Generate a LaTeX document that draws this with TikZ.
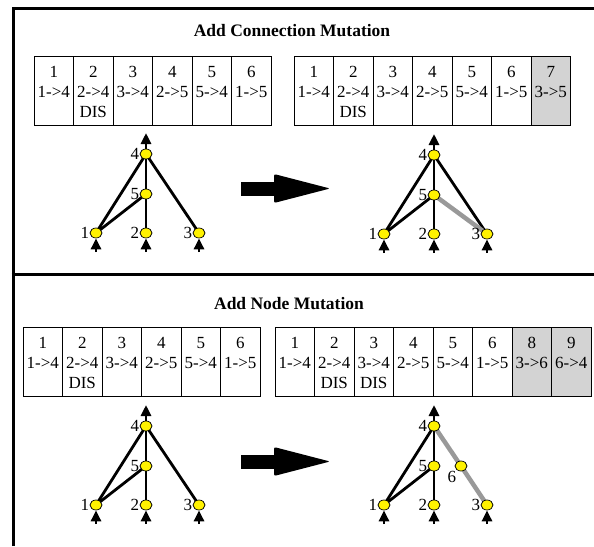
\documentclass[tikz,border=0pt]{standalone}
\usepackage{fontspec}
\setmainfont{Liberation Serif}
\usetikzlibrary{arrows.meta,shapes.geometric,calc,backgrounds}
\definecolor{newlink}{HTML}{999999}
\definecolor{newgene}{HTML}{D3D3D3}
\newcommand\genefont{\fontsize{17}{20}\selectfont}
\newcommand\titlefont{\fontsize{17.5}{21}\selectfont\bfseries}

\tikzset{
  frame/.style={line width=3pt},
  cell/.style={draw, line width=0.8pt, minimum width=39.5pt, minimum height=69.5pt,
    anchor=north west, inner sep=0pt, outer sep=0pt},
  gene/.style={font=\genefont, anchor=base, inner sep=0pt},
  neuron/.style={ellipse, draw, fill=yellow, line width=0.7pt,
    minimum width=12pt, minimum height=10pt, inner sep=0pt},
  nlabel/.style={font=\genefont, inner sep=0.3pt},
  link/.style={line width=2.8pt},
  addedlink/.style={line width=4.5pt, draw=newlink},
  io/.style={line width=2.8pt, -{Triangle[width=10pt,length=11pt]}},
  heading/.style={font=\titlefont, anchor=base},
}

% a genome: row of connection genes (number / link / status)
\newcommand\genome[4]{%
  \foreach \g/\c/\d/\f [count=\k] in {#4} {
    \node[cell, fill=\f] (#1\k) at ({#2+(\k-1)*39.5},#3) {};
    \node[gene] (#1n\k) at ($(#1\k.north)+(0,21)$) {\g};
    \node[gene] (#1c\k) at ($(#1\k.north)+(0,41)$) {\c};
    \node[gene] (#1d\k) at ($(#1\k.north)+(0,61)$) {\d};
  }}

% the five neurons of a network, their numbers and the in/out arrows
\newcommand\neatnet[3]{%
  \node[neuron] (#1-4) at (#2,#3) {};
  \node[neuron] (#1-5) at (#2,#3+40) {};
  \node[neuron] (#1-1) at (#2-50,#3+79) {};
  \node[neuron] (#1-2) at (#2,#3+79) {};
  \node[neuron] (#1-3) at (#2+53,#3+79) {};
  \foreach \k in {1,...,5} {
    \node[nlabel, anchor=east] (#1-l\k) at (#1-\k.west) {\k};
  }
  \coordinate (#1-out) at (#2,#3-21);
  \draw[io] (#1-4) -- (#1-out);
  \foreach \k in {1,2,3} {
    \coordinate (#1-in\k) at ($(#1-\k)+(0,19)$);
    \draw[io] (#1-in\k) -- (#1-\k);
  }}

\begin{document}
\begin{tikzpicture}[x=1pt,y=-1pt]
\useasboundingbox (0,0) rectangle (594,546);

% panel frame
\draw[frame] (13,546) -- (13,8.5) -- (594,8.5);
\draw[frame] (11.5,274) -- (594,274);

% ---------- add connection ----------
\node[heading] (title1) at (292,36) {Add Connection Mutation};

\genome{TL}{34}{56}{1/1->4/{}/white, 2/2->4/DIS/white, 3/3->4/{}/white,
  4/2->5/{}/white, 5/5->4/{}/white, 6/1->5/{}/white}
\genome{TR}{294}{56}{1/1->4/{}/white, 2/2->4/DIS/white, 3/3->4/{}/white,
  4/2->5/{}/white, 5/5->4/{}/white, 6/1->5/{}/white, 7/3->5/{}/newgene}

\neatnet{A}{146}{154}
\neatnet{B}{434}{155}

\fill (241,181.5) rectangle (276,195.5);
\fill[rounded corners=2pt] (274,174) -- (330,188.5) -- (274,203) -- cycle;

% ---------- add node ----------
\node[heading] (title2) at (289,309) {Add Node Mutation};

\genome{BL}{23}{327}{1/1->4/{}/white, 2/2->4/DIS/white, 3/3->4/{}/white,
  4/2->5/{}/white, 5/5->4/{}/white, 6/1->5/{}/white}
\genome{BR}{275}{327}{1/1->4/{}/white, 2/2->4/DIS/white, 3/3->4/DIS/white,
  4/2->5/{}/white, 5/5->4/{}/white, 6/1->5/{}/white, 8/3->6/{}/newgene, 9/6->4/{}/newgene}

\neatnet{C}{146}{426}
\neatnet{D}{434}{426}
\node[neuron] (D-6) at (461,466) {};
\node[nlabel, anchor=north east] (D-l6) at ($(D-6.south west)+(0,1)$) {6};

\fill (241,454.5) rectangle (276,468.5);
\fill[rounded corners=2pt] (274,447) -- (330,461.5) -- (274,476) -- cycle;

% connections, under the neurons
\begin{pgfonlayer}{background}
  \foreach \n in {A,B,C,D} {
    \draw[link] (\n-1.center) -- (\n-4.center);
    \draw[link] (\n-1.center) -- (\n-5.center);
    \draw[link] (\n-5.center) -- (\n-4.center);
    \draw[link] (\n-2.center) -- (\n-5.center);
  }
  \draw[link] (A-3.center) -- (A-4.center);
  \draw[link] (B-3.center) -- (B-4.center);
  \draw[link] (C-3.center) -- (C-4.center);
  \draw[addedlink] (B-5.center) -- (B-3.center);
  \draw[addedlink] (D-3.center) -- (D-6.center) -- (D-4.center);
\end{pgfonlayer}
\end{tikzpicture}
\end{document}
